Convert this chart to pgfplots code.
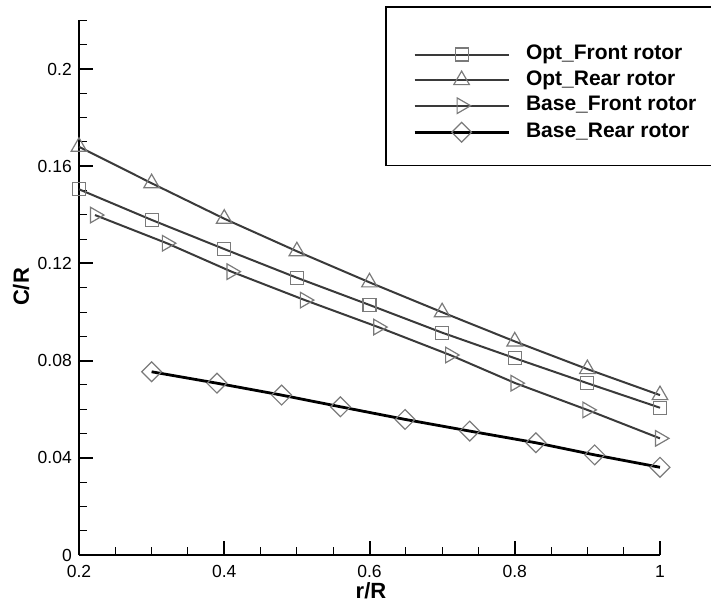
\documentclass[border=0pt]{standalone}
\usepackage{fontspec}
\setmainfont{Liberation Sans}
\usepackage{pgfplots}
\pgfplotsset{compat=1.18}
\definecolor{lineg}{HTML}{3A3A3A}
\definecolor{markg}{HTML}{7A7A7A}
\begin{document}
\begin{tikzpicture}
\begin{axis}[
  scale only axis,
  width=581pt, height=534.6pt,
  xmin=0.2, xmax=1.0, ymin=0, ymax=0.22,
  axis lines=left,
  axis line style={-, line width=2pt, black},
  xtick={0.2,0.4,0.6,0.8,1.0},
  xticklabels={0.2,0.4,0.6,0.8,1},
  ytick={0,0.04,0.08,0.12,0.16,0.2},
  yticklabels={0,0.04,0.08,0.12,0.16,0.2},
  minor xtick={0.25,0.3,0.35,0.45,0.5,0.55,0.65,0.7,0.75,0.85,0.9,0.95},
  minor ytick={0.01,0.02,0.03,0.05,0.06,0.07,0.09,0.1,0.11,0.13,0.14,0.15,0.17,0.18,0.19,0.21,0.22},
  tick align=inside,
  major tick length=14pt, minor tick length=8pt,
  major tick style={line width=2pt, black},
  minor tick style={line width=1pt, black},
  tick label style={font=\fontsize{17.5}{20}\selectfont},
  xticklabel style={inner sep=0pt, yshift=-10.5pt},
  yticklabel style={inner sep=0pt, xshift=-7pt},
  xlabel={\textbf{r/R}},
  ylabel={\textbf{C/R}},
  label style={font=\fontsize{22}{24}\selectfont},
  xlabel style={at={(axis description cs:0.5026,-0.0673)}, anchor=center},
  ylabel style={at={(axis description cs:-0.0998,0.5013)}, anchor=center},
  legend style={at={(axis description cs:0.5749,0.9534)}, anchor=north west,
    draw=none, fill=none, inner sep=0pt,
    font=\fontsize{21}{23}\selectfont\bfseries,
    nodes={inner sep=0pt, text height=14pt, text depth=4pt},
    row sep=7.6pt,
    /tikz/every odd column/.append style={column sep=16pt}},
  legend image code/.code={\draw[mark repeat=2,mark phase=2,#1] plot coordinates {(0pt,0pt)(47pt,0pt)(94pt,0pt)};},
  legend cell align=left,
  clip=false,
]
\addplot[lineg, line width=2pt, mark=square, mark size=6.5pt,
  mark options={markg, line width=1.2pt, fill=none}] table {
x y
0.2 0.1505
0.3 0.1379
0.4 0.1259
0.5 0.1141
0.6 0.1029
0.7 0.0915
0.8 0.0810
0.9 0.0707
1.0 0.0606
};
\addlegendentry{Opt\_Front rotor}
\addplot[lineg, line width=2pt, mark=triangle, mark size=9pt,
  mark options={markg, line width=1.2pt, fill=none}] table {
x y
0.2 0.1680
0.3 0.1530
0.4 0.1384
0.5 0.1250
0.6 0.1122
0.7 0.0999
0.8 0.0879
0.9 0.0765
1.0 0.0658
};
\addlegendentry{Opt\_Rear rotor}
\addplot[lineg, line width=2pt, mark=triangle, mark size=9pt,
  mark options={markg, line width=1.2pt, fill=none, rotate=-90}] table {
x y
0.222 0.1399
0.321 0.1283
0.410 0.1166
0.511 0.1049
0.612 0.0938
0.711 0.0823
0.801 0.0707
0.900 0.0597
1.000 0.0480
};
\addlegendentry{Base\_Front rotor}
\addplot[black, line width=2.8pt, mark=square, mark size=7pt,
  mark options={markg, line width=1.2pt, fill=none, rotate=45}] table {
x y
0.300 0.0754
0.390 0.0707
0.479 0.0658
0.560 0.0610
0.649 0.0558
0.738 0.0510
0.829 0.0462
0.910 0.0412
1.000 0.0361
};
\addlegendentry{Base\_Rear rotor}
\draw[line width=1.2pt] (axis description cs:0.5284,1.025) rectangle (axis description cs:1.1,0.7284);
\end{axis}
\pgfresetboundingbox
\useasboundingbox (-79pt,-51pt) rectangle (632pt,555pt);
\end{tikzpicture}
\end{document}
